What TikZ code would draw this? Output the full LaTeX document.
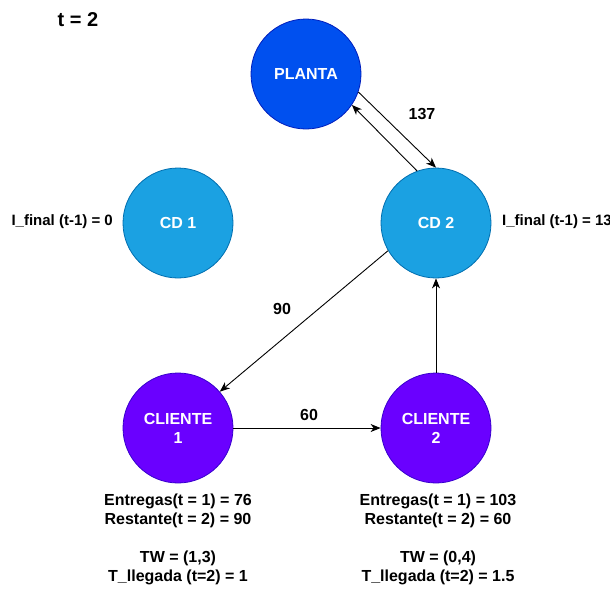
\documentclass[tikz,border=0pt]{standalone}
\usepackage{fontspec}
\setmainfont{Liberation Sans}
\usetikzlibrary{arrows.meta}
\definecolor{plantafill}{HTML}{0050EF}
\definecolor{plantaline}{HTML}{001DBC}
\definecolor{cdfill}{HTML}{1BA1E2}
\definecolor{cdline}{HTML}{006EAF}
\definecolor{clifill}{HTML}{6A00FF}
\definecolor{cliline}{HTML}{3700CC}
\tikzset{
  site/.style={circle, minimum size=110pt, inner sep=0pt, line width=0.8pt,
    text=white, align=center, font=\bfseries\fontsize{16}{19}\selectfont},
  plantanode/.style={site, fill=plantafill, draw=plantaline},
  cdnode/.style={site, fill=cdfill, draw=cdline},
  clinode/.style={site, fill=clifill, draw=cliline},
  lbl/.style={font=\bfseries\fontsize{16}{19}\selectfont, inner sep=0pt, align=center},
  invlbl/.style={lbl, font=\bfseries\fontsize{15}{18}\selectfont},
  arr/.style={line width=0.9pt, -{Stealth[length=10pt,width=8pt,inset=3pt]}}
}
\begin{document}
\begin{tikzpicture}[x=1pt,y=-1pt]
\useasboundingbox (0,0) rectangle (610,590);

% period marker
\node[lbl, font=\bfseries\fontsize{20}{24}\selectfont] (period) at (78,20) {t = 2};

% sites
\node[plantanode] (planta) at (306,74) {PLANTA};
\node[cdnode] (cd1) at (178,223) {CD 1};
\node[cdnode] (cd2) at (436,223) {CD 2};
\node[clinode] (cli1) at (178,428) {CLIENTE\\1};
\node[clinode] (cli2) at (436,428) {CLIENTE\\2};

% inventory labels (the right one runs past the page edge)
\node[invlbl, anchor=east] (inv1) at (113,222) {I\_final (t-1) = 0};
\node[invlbl, anchor=west] (inv2) at (502,222) {I\_final (t-1) = 137};

% routes
\draw[arr] (planta.-19) -- (cd2.90);
\draw[arr] (cd2.110) -- (planta.-34);
\draw[arr] (cd2.210) -- (cli1.41);
\draw[arr] (cli1) -- (cli2);
\draw[arr] (cli2) -- (cd2);

% route quantities
\node[lbl] (q137) at (422,114) {137};
\node[lbl] (q90) at (282,309) {90};
\node[lbl] (q60) at (309,415) {60};

% customer details
\node[lbl, anchor=north] (det1) at (178,494) {Entregas(t = 1) = 76\\Restante(t = 2) = 90\\[19pt]TW = (1,3)\\T\_llegada (t=2) = 1};
\node[lbl, anchor=north] (det2) at (438,494) {Entregas(t = 1) = 103\\Restante(t = 2) = 60\\[19pt]TW = (0,4)\\T\_llegada (t=2) = 1.5};
\end{tikzpicture}
\end{document}
